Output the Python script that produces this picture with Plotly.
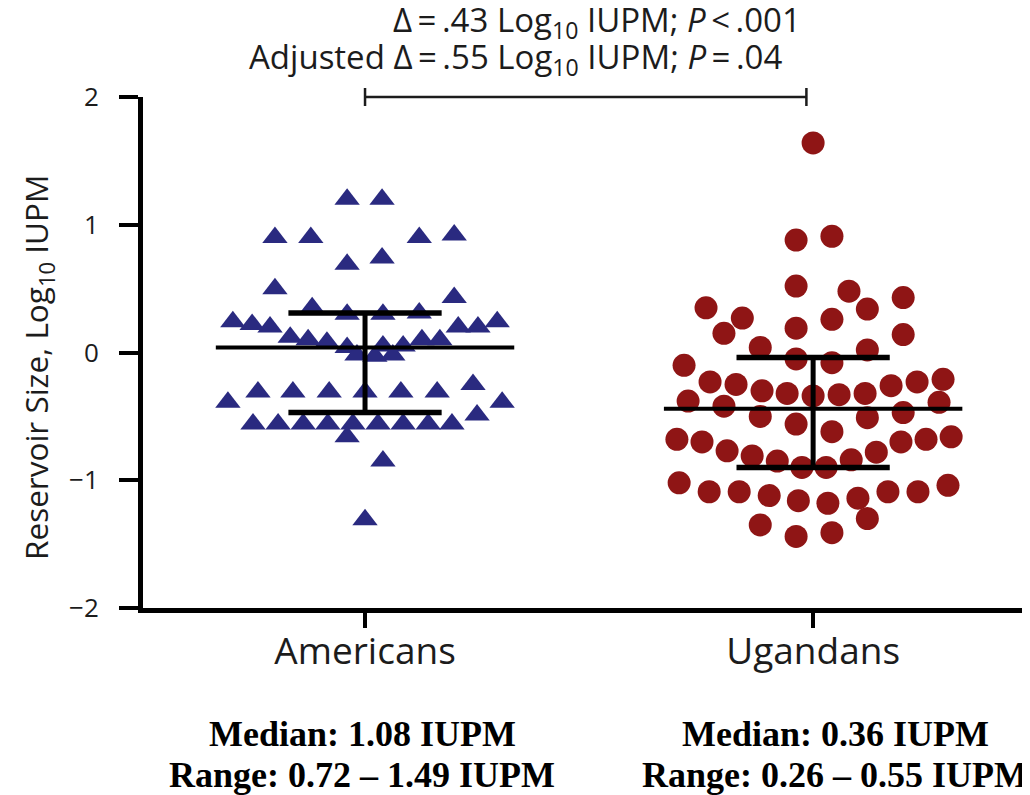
import plotly.graph_objects as go

# ---------------- data ----------------
categories = ["Americans", "Ugandans"]

americans_values = [
    1.20, 1.20, 0.90, 0.90, 0.90, 0.92, 0.69, 0.74, 0.50, 0.43,
    0.35, 0.30, 0.30, 0.31, 0.24, 0.22, 0.20, 0.20, 0.20, 0.24,
    0.12, 0.10, 0.08, 0.04, 0.05, 0.05, 0.10, 0.10, -0.02, -0.03, -0.02,
    -0.25, -0.31, -0.31, -0.31, -0.31, -0.31, -0.31, -0.39, -0.39, -0.49,
    -0.56, -0.56, -0.56, -0.56, -0.56, -0.56, -0.56, -0.56, -0.56,
    -0.66, -0.85, -1.31,
]
americans_jitter = [
    -0.040, 0.038, -0.201, -0.121, 0.121, 0.199, -0.040, 0.038, -0.201, 0.199,
    -0.118, -0.040, 0.040, 0.121, -0.295, -0.252, -0.212, 0.208, 0.252, 0.295,
    -0.167, -0.127, -0.085, -0.040, 0.040, 0.085, 0.127, 0.167, -0.018, 0.022, 0.062,
    0.241, -0.239, -0.161, -0.080, 0.000, 0.080, 0.161, -0.306, 0.306, 0.250,
    -0.250, -0.194, -0.138, -0.083, -0.027, 0.029, 0.085, 0.141, 0.194,
    -0.040, 0.040, 0.000,
]

ugandans_values = [
    1.64, 0.88, 0.91, 0.52, 0.48, 0.43, 0.35, 0.27, 0.34,
    0.15, 0.19, 0.26, 0.14, 0.04, 0.02, -0.10, -0.05, -0.08,
    -0.23, -0.25, -0.30, -0.32, -0.34, -0.33, -0.32, -0.26, -0.23, -0.21,
    -0.38, -0.42, -0.39, -0.47, -0.50, -0.51, -0.56, -0.62,
    -0.68, -0.70, -0.77, -0.81, -0.85, -0.90, -0.90, -0.84, -0.78, -0.70, -0.68, -0.66,
    -1.02, -1.09, -1.09, -1.12, -1.16, -1.18, -1.14, -1.09, -1.09, -1.04,
    -1.30, -1.35, -1.44, -1.41,
]
ugandans_jitter = [
    0.000, -0.038, 0.042, -0.038, 0.080, 0.201, -0.239, -0.158, 0.121,
    -0.199, -0.038, 0.042, 0.201, -0.118, 0.121, -0.288, -0.038, 0.042,
    -0.230, -0.172, -0.114, -0.058, 0.000, 0.058, 0.116, 0.174, 0.232, 0.290,
    -0.279, -0.199, 0.281, 0.201, -0.118, 0.121, -0.038, 0.042,
    -0.304, -0.248, -0.192, -0.136, -0.080, -0.025, 0.029, 0.085, 0.141, 0.196, 0.252, 0.308,
    -0.299, -0.232, -0.165, -0.098, -0.033, 0.033, 0.100, 0.167, 0.234, 0.301,
    0.121, -0.118, -0.038, 0.042,
]

group_center = [0.04, -0.44]
group_upper = [0.31, -0.04]
group_lower = [-0.47, -0.90]

y_ticks = [-2, -1, 0, 1, 2]
y_tick_labels = ["\u22122", "\u22121", "0", "1", "2"]

stats_text = [
    ("Median: 1.08 IUPM", "Range: 0.72 \u2013 1.49 IUPM"),
    ("Median: 0.36 IUPM", "Range: 0.26 \u2013 0.55 IUPM"),
]
y_title = "Reservoir Size, Log<sub>10</sub> IUPM"
line1 = "\u0394\u2009=\u2009.43 Log<sub>10</sub> IUPM; <i>P</i>\u2009<\u2009.001"
line2 = "Adjusted \u0394\u2009=\u2009.55 Log<sub>10</sub> IUPM; <i>P</i>\u2009=\u2009.04"

# ---------------- layout constants ----------------
PAGE_OFF = 8            # browser body margin
W, H = 1030 - PAGE_OFF, 795 - PAGE_OFF
L, R, T, B = 135, 0, 89, 187
XMIN, XMAX = -0.4955, 1.484
SANS = "Open Sans"
INK = "#1c1c1c"


def px_to_paper(px, py):
    """reference-image pixel -> paper coordinates"""
    fx, fy = px - PAGE_OFF, py - PAGE_OFF
    return (fx - L) / (W - L - R), (H - B - fy) / (H - T - B)


def x_to_domain(x):
    return (x - XMIN) / (XMAX - XMIN)


fig = go.Figure()

fig.add_trace(go.Scatter(
    x=[0 + j for j in americans_jitter], y=americans_values, mode="markers",
    marker=dict(symbol="triangle-up", size=22, color="#2a2a80", line=dict(width=0)),
    showlegend=False, hoverinfo="y",
))
fig.add_trace(go.Scatter(
    x=[1 + j for j in ugandans_jitter], y=ugandans_values, mode="markers",
    marker=dict(symbol="circle", size=23, color="#8f1515", line=dict(width=0)),
    showlegend=False, hoverinfo="y",
))

# mean lines and error bars
for i in range(len(categories)):
    c = i
    fig.add_trace(go.Scatter(
        x=[c - 0.333, c + 0.333], y=[group_center[i]] * 2, mode="lines",
        line=dict(color="black", width=4), showlegend=False, hoverinfo="skip"))
    fig.add_trace(go.Scatter(
        x=[c, c], y=[group_lower[i], group_upper[i]], mode="lines",
        line=dict(color="black", width=5), showlegend=False, hoverinfo="skip"))
    for v in (group_upper[i], group_lower[i]):
        fig.add_trace(go.Scatter(
            x=[c - 0.171, c + 0.171], y=[v, v], mode="lines",
            line=dict(color="black", width=5.5), showlegend=False, hoverinfo="skip"))

# significance bracket at top
bx0, bx1 = x_to_domain(0.0), x_to_domain(0.985)
cap = 9 / (H - T - B)
fig.add_shape(type="line", xref="x domain", yref="y domain", x0=bx0, x1=bx1, y0=1, y1=1,
              line=dict(color=INK, width=2.5))
for bx in (bx0, bx1):
    fig.add_shape(type="line", xref="x domain", yref="y domain", x0=bx, x1=bx,
                  y0=1 - cap, y1=1 + cap, line=dict(color=INK, width=2.5))

ax, ay = px_to_paper(597, 21)
fig.add_annotation(text=line1, x=ax, y=ay, xref="paper", yref="paper", showarrow=False,
                   xanchor="center", yanchor="middle", font=dict(family=SANS, size=33, color=INK))
ax, ay = px_to_paper(515, 59)
fig.add_annotation(text=line2, x=ax, y=ay, xref="paper", yref="paper", showarrow=False,
                   xanchor="center", yanchor="middle", font=dict(family=SANS, size=33, color=INK))

# y-axis title (placed as rotated annotation to match the reference position)
ax, ay = px_to_paper(37, 368)
fig.add_annotation(text=y_title, x=ax, y=ay, xref="paper", yref="paper", showarrow=False,
                   textangle=-90, xanchor="center", yanchor="middle",
                   font=dict(family=SANS, size=31.5, color=INK))

# bottom stats text
for (m, r), cx in zip(stats_text, (362, 835)):
    for txt, cy in ((m, 734), (r, 775)):
        ax, ay = px_to_paper(cx, cy)
        fig.add_annotation(text="<b>" + txt + "</b>", x=ax, y=ay, xref="paper", yref="paper",
                           showarrow=False, xanchor="center", yanchor="middle",
                           font=dict(family="Liberation Serif", size=36, color="black"))

fig.update_layout(
    width=W, height=H,
    margin=dict(l=L, r=R, t=T, b=B),
    plot_bgcolor="white", paper_bgcolor="white",
    xaxis=dict(range=[XMIN, XMAX], tickvals=[0, 1], ticktext=categories,
               ticks="outside", ticklen=15, tickwidth=3.5, tickcolor="black",
               showline=True, linewidth=5, linecolor="black",
               showgrid=False, zeroline=False, ticklabelstandoff=-8,
               tickfont=dict(family=SANS, size=37, color=INK)),
    yaxis=dict(range=[-2, 2], tickvals=y_ticks, ticktext=y_tick_labels,
               ticks="outside", ticklen=19, tickwidth=3.5, tickcolor="black",
               showline=True, linewidth=5, linecolor="black",
               showgrid=False, zeroline=False, ticklabelstandoff=15,
               tickfont=dict(family=SANS, size=26, color=INK)),
)

fig.write_html("out.html")
